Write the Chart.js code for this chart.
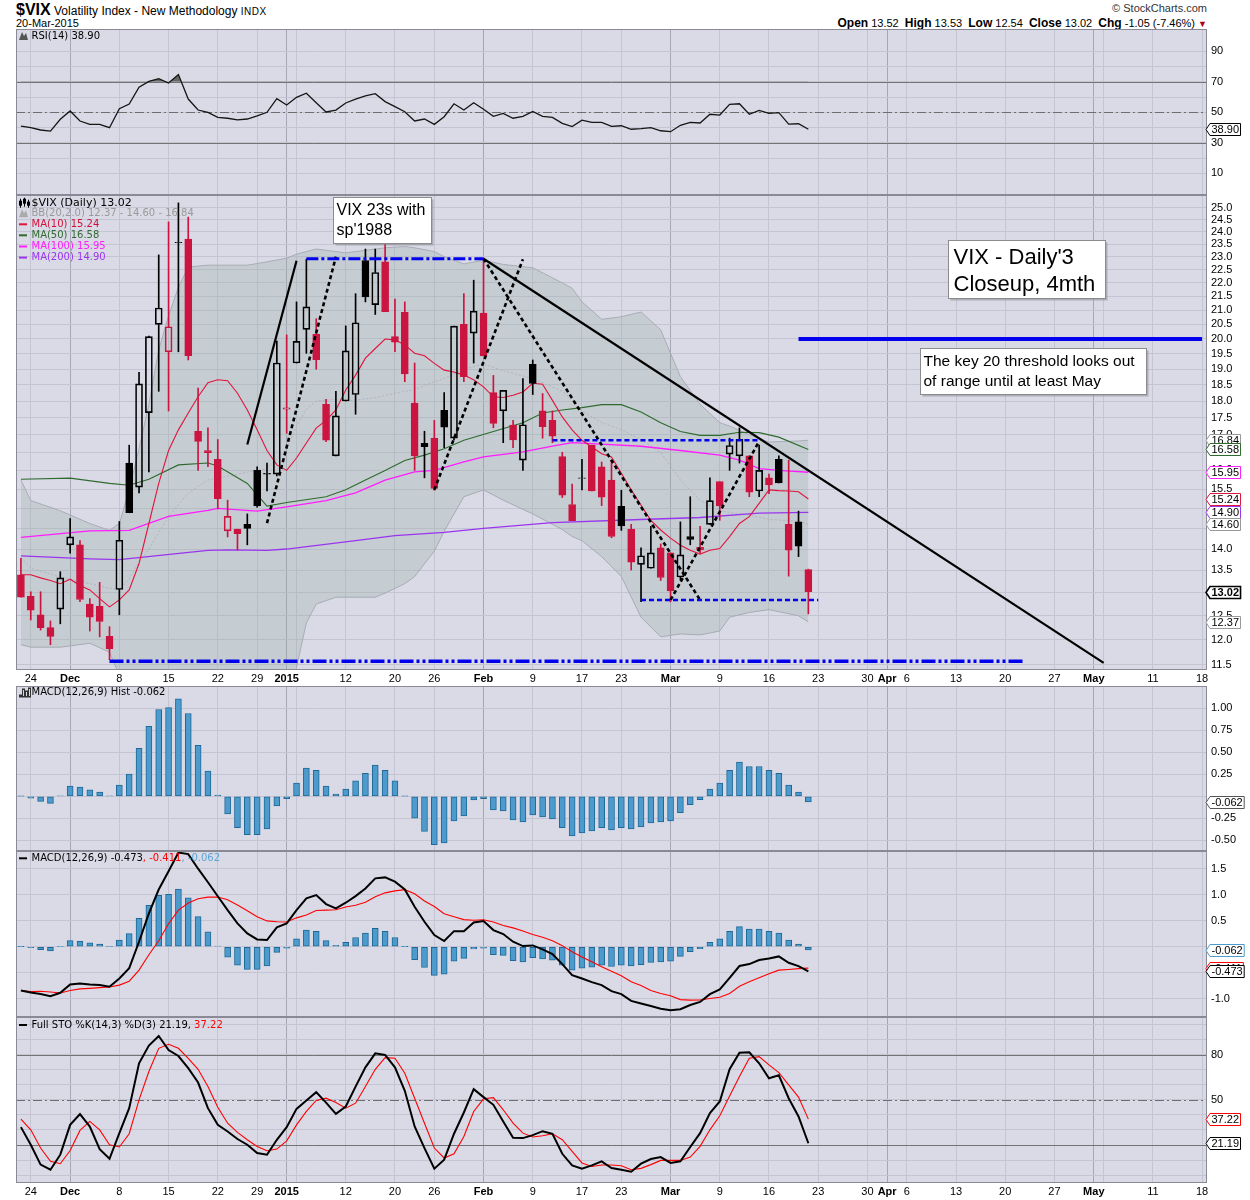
<!DOCTYPE html>
<html>
<head>
<meta charset="utf-8">
<title>$VIX daily</title>
<script src="https://cdn.jsdelivr.net/npm/chart.js@4.4.1/dist/chart.umd.min.js"></script>
<style>
  body { margin: 0; background: #fff; }
  #page { position: relative; width: 1250px; height: 1200px; font-family: "Liberation Sans", Arial, sans-serif; }
  #page canvas { position: absolute; left: 0; }
  .txt { position: absolute; white-space: nowrap; color: #000; }
</style>
</head>
<body>
<div id="page">
  <div class="txt" style="left:16px;top:1px;font-size:12px"><b style="font-size:16px">$VIX</b> Volatility Index - New Methodology <span style="font-size:10px;letter-spacing:0.5px">INDX</span></div>
  <div class="txt" style="left:16px;top:17px;font-size:11px">20-Mar-2015</div>
  <div class="txt" style="right:43px;top:2px;font-size:11px;color:#333">&copy; StockCharts.com</div>
  <div class="txt" style="right:43px;top:16px;font-size:11px"><b style="font-size:12px">Open</b> 13.52 &nbsp;<b style="font-size:12px">High</b> 13.53 &nbsp;<b style="font-size:12px">Low</b> 12.54 &nbsp;<b style="font-size:12px">Close</b> 13.02 &nbsp;<b style="font-size:12px">Chg</b> -1.05 (-7.46%) <span style="color:#b00020;font-size:9px">&#9660;</span></div>
  <canvas id="rsiChart"></canvas>
  <canvas id="priceChart"></canvas>
  <canvas id="histChart"></canvas>
  <canvas id="macdChart"></canvas>
  <canvas id="stoChart"></canvas>
</div>
<script>
// trading days on the x axis (history + empty future space up to mid May)
const monthDays = [
  ['Nov', [21, 24, 25, 26, 28]],
  ['Dec', [1, 2, 3, 4, 5, 8, 9, 10, 11, 12, 15, 16, 17, 18, 19, 22, 23, 24, 26, 29, 30, 31]],
  ['Jan', [2, 5, 6, 7, 8, 9, 12, 13, 14, 15, 16, 20, 21, 22, 23, 26, 27, 28, 29, 30]],
  ['Feb', [2, 3, 4, 5, 6, 9, 10, 11, 12, 13, 17, 18, 19, 20, 23, 24, 25, 26, 27]],
  ['Mar', [2, 3, 4, 5, 6, 9, 10, 11, 12, 13, 16, 17, 18, 19, 20, 23, 24, 25, 26, 27, 30, 31]],
  ['Apr', [1, 2, 6, 7, 8, 9, 10, 13, 14, 15, 16, 17, 20, 21, 22, 23, 24, 27, 28, 29, 30]],
  ['May', [1, 4, 5, 6, 7, 8, 11, 12, 13, 14, 15, 18]]
];
const dates = monthDays.flatMap(([m, ds]) => ds.map(d => m + ' ' + d));

const dateTicks = [
  ['Nov 24', '24'], ['Dec 1', 'Dec'], ['Dec 8', '8'], ['Dec 15', '15'], ['Dec 22', '22'], ['Dec 29', '29'],
  ['Jan 2', '2015'], ['Jan 5', ' '], ['Jan 12', '12'], ['Jan 20', '20'], ['Jan 26', '26'], ['Feb 2', 'Feb'],
  ['Feb 9', '9'], ['Feb 17', '17'], ['Feb 23', '23'], ['Mar 2', 'Mar'], ['Mar 9', '9'], ['Mar 16', '16'],
  ['Mar 23', '23'], ['Mar 30', '30'], ['Apr 1', 'Apr'], ['Apr 6', '6'], ['Apr 13', '13'], ['Apr 20', '20'],
  ['Apr 27', '27'], ['May 1', 'May'], ['May 4', ' '], ['May 11', '11'], ['May 18', '18']
];
const boldTicks = ['Dec', '2015', 'Feb', 'Mar', 'Apr', 'May'];

// daily OHLC, Nov 21 2014 - Mar 20 2015
const prevClose = 13.58;
const opens = [13.40, 12.92, 12.52, 12.25, 12.64,
  14.10, 14.10, 12.75, 12.70, 12.07, 13.07, 16.20, 15.55, 17.65, 20.50, 19.57, 23.55, 23.70, 17.10, 16.55, 16.30, 14.44, 14.48, 14.60, 16.00, 15.90, 15.90,
  17.75, 19.20, 20.33, 20.16, 17.90, 16.40, 18.00, 18.20, 22.85, 21.20, 22.80, 20.08, 20.93, 17.94, 16.75, 16.90, 17.72, 16.90, 20.50, 20.20,
  20.90, 18.26, 17.70, 17.28, 16.28, 19.16, 17.70, 17.42, 16.38, 15.10, 15.78, 16.70, 16.10, 15.74, 15.05, 14.48, 13.64, 13.55, 14.03,
  13.91, 13.35, 14.30, 13.98, 14.60, 15.70, 16.45, 16.40, 16.40, 15.45, 15.80, 16.30, 14.60, 14.66, 13.52];
const highs = [13.78, 13.02, 13.02, 12.39, 13.47,
  14.74, 14.20, 12.87, 13.23, 12.27, 14.67, 16.70, 18.90, 20.10, 23.07, 24.40, 25.20, 24.60, 18.40, 17.20, 16.86, 15.21, 14.48, 14.86, 16.10, 16.20, 19.93,
  20.14, 21.30, 22.90, 20.70, 18.05, 18.30, 20.45, 21.60, 23.30, 23.30, 23.50, 21.40, 21.30, 19.20, 17.10, 17.42, 18.26, 20.44, 21.60, 22.10,
  22.95, 18.80, 18.33, 17.42, 18.70, 19.30, 18.23, 17.70, 16.50, 15.63, 16.30, 16.70, 16.23, 16.28, 15.47, 14.60, 14.03, 14.55, 14.12,
  13.91, 14.66, 15.30, 14.55, 15.80, 15.70, 16.90, 17.20, 16.40, 16.70, 15.90, 16.40, 16.28, 14.93, 13.53];
const lows = [12.90, 12.41, 12.20, 11.90, 12.33,
  13.90, 12.80, 12.18, 12.06, 11.60, 12.52, 14.89, 15.40, 15.96, 18.30, 17.70, 19.57, 19.30, 16.00, 16.10, 14.99, 14.29, 13.98, 14.10, 15.03, 15.45, 15.85,
  17.04, 19.20, 19.52, 19.00, 16.80, 16.40, 18.00, 17.60, 21.30, 20.85, 20.95, 19.57, 18.60, 16.00, 15.80, 15.47, 16.63, 16.85, 18.60, 19.20,
  19.43, 17.20, 16.77, 16.63, 16.00, 18.20, 16.90, 16.77, 15.28, 14.69, 15.48, 15.45, 15.07, 14.27, 14.45, 13.51, 12.80, 13.55, 13.27,
  12.80, 13.28, 14.10, 13.90, 14.60, 14.70, 16.00, 16.20, 15.30, 15.30, 15.38, 15.66, 13.37, 13.82, 12.54];
const closes = [12.90, 12.62, 12.25, 12.07, 13.33,
  14.29, 12.85, 12.47, 12.38, 11.82, 14.21, 14.89, 18.53, 20.08, 21.08, 20.42, 23.57, 19.44, 16.81, 16.49, 15.25, 14.80, 14.37, 14.50, 15.06, 15.92, 19.20,
  17.79, 19.92, 21.12, 19.31, 16.84, 17.55, 19.60, 20.56, 21.48, 22.39, 20.95, 19.89, 18.85, 16.40, 16.66, 15.52, 17.22, 20.44, 18.76, 20.97,
  19.43, 17.33, 18.33, 16.85, 17.29, 18.55, 17.23, 16.96, 15.34, 14.69, 15.80, 15.45, 15.29, 14.30, 14.56, 13.69, 13.84, 13.91, 13.34,
  13.04, 13.86, 14.23, 14.04, 15.20, 15.06, 16.69, 16.87, 15.42, 16.00, 15.61, 15.66, 13.97, 14.07, 13.02];

// overlays
const ma10 = [13.40, 13.40, 13.33, 13.27, 13.20,
  13.30, 13.16, 13.06, 12.87, 12.69, 12.84, 13.06, 13.66, 14.62, 15.65, 16.55, 17.14, 17.64, 18.13, 18.57, 18.66, 18.63, 18.24, 17.73, 17.14, 16.55, 16.15,
  16.00, 16.34, 16.76, 17.19, 17.42, 17.73, 18.34, 18.81, 19.36, 19.68, 20.00, 19.97, 19.80, 19.52, 19.44, 19.19, 18.97, 18.91, 18.81, 18.66,
  18.44, 18.13, 18.11, 18.18, 18.28, 18.55, 18.52, 18.02, 17.52, 17.14, 16.84, 16.65, 16.46, 16.37, 15.92, 15.48, 15.08, 14.70, 14.46,
  14.26, 14.09, 13.97, 13.88, 13.97, 14.01, 14.30, 14.62, 14.79, 15.13, 15.48, 15.46, 15.45, 15.43, 15.24];
const ma50 = [['Nov 21', 15.76], ['Dec 1', 15.79], ['Dec 5', 15.65], ['Dec 9', 15.60], ['Dec 11', 15.76], ['Dec 16', 16.15],
  ['Dec 19', 16.20], ['Dec 22', 16.12], ['Dec 26', 15.65], ['Dec 30', 15.06], ['Jan 2', 15.15], ['Jan 8', 15.30], ['Jan 12', 15.48],
  ['Jan 14', 15.74], ['Jan 16', 16.00], ['Jan 21', 16.27], ['Jan 23', 16.42], ['Jan 27', 16.60], ['Jan 29', 16.84], ['Feb 3', 17.09],
  ['Feb 6', 17.35], ['Feb 10', 17.64], ['Feb 12', 17.73], ['Feb 17', 17.80], ['Feb 19', 17.89], ['Feb 23', 17.89], ['Feb 25', 17.67],
  ['Feb 27', 17.35], ['Mar 3', 17.09], ['Mar 5', 16.98], ['Mar 9', 16.98], ['Mar 11', 17.07], ['Mar 13', 17.06], ['Mar 17', 16.93], ['Mar 20', 16.58]];
const ma100 = [['Nov 21', 14.28], ['Dec 3', 14.44], ['Dec 9', 14.45], ['Dec 15', 14.80], ['Dec 19', 14.95], ['Dec 22', 15.00],
  ['Dec 29', 14.93], ['Jan 2', 15.04], ['Jan 8', 15.20], ['Jan 13', 15.40], ['Jan 16', 15.74], ['Jan 22', 15.96], ['Jan 26', 16.00],
  ['Jan 29', 16.23], ['Feb 2', 16.37], ['Feb 6', 16.51], ['Feb 11', 16.67], ['Feb 13', 16.77], ['Feb 19', 16.73], ['Feb 25', 16.67],
  ['Mar 3', 16.55], ['Mar 9', 16.42], ['Mar 11', 16.28], ['Mar 13', 16.05], ['Mar 17', 16.00], ['Mar 20', 15.95]];
const ma200 = [['Nov 21', 13.84], ['Dec 3', 13.77], ['Dec 8', 13.75], ['Dec 19', 13.97], ['Dec 23', 13.98], ['Dec 30', 13.97],
  ['Jan 2', 14.00], ['Jan 13', 14.20], ['Jan 20', 14.32], ['Jan 27', 14.40], ['Feb 2', 14.50], ['Feb 11', 14.64], ['Feb 25', 14.72],
  ['Mar 5', 14.77], ['Mar 13', 14.88], ['Mar 20', 14.90]];

const bbDates = ['Nov 21', 'Nov 24', 'Nov 28', 'Dec 3', 'Dec 5', 'Dec 8', 'Dec 9', 'Dec 10', 'Dec 11', 'Dec 12', 'Dec 15', 'Dec 16',
  'Dec 17', 'Dec 19', 'Dec 26', 'Dec 30', 'Jan 2', 'Jan 5', 'Jan 6', 'Jan 7', 'Jan 9', 'Jan 12', 'Jan 15', 'Jan 16', 'Jan 21',
  'Jan 22', 'Jan 26', 'Jan 27', 'Jan 29', 'Feb 2', 'Feb 4', 'Feb 9', 'Feb 12', 'Feb 13', 'Feb 17', 'Feb 19', 'Feb 23', 'Feb 25',
  'Feb 27', 'Mar 3', 'Mar 5', 'Mar 9', 'Mar 10', 'Mar 12', 'Mar 16', 'Mar 19', 'Mar 20'];
const bbUpper = [15.74, 15.20, 14.94, 14.62, 14.45, 14.62, 15.48, 16.60, 17.90, 19.63, 20.80, 21.84,
  22.60, 22.67, 22.67, 22.80, 22.94, 23.10, 23.20, 23.30, 23.20, 23.15, 23.30, 23.35, 23.40,
  23.35, 23.20, 23.00, 22.72, 22.86, 22.70, 22.57, 22.00, 21.80, 21.30, 20.68, 20.77, 20.94,
  20.31, 18.76, 17.90, 17.35, 17.25, 17.00, 16.79, 16.82, 16.84];
const bbMid = [13.80, 13.55, 13.35, 13.20, 13.10, 13.07, 13.30, 13.70, 14.00, 14.40, 14.78, 15.10,
  15.40, 15.74, 15.95, 16.05, 16.60, 17.25, 17.75, 18.00, 18.05, 18.00, 18.10, 18.17, 18.30,
  18.35, 18.60, 18.70, 19.00, 19.17, 18.95, 18.70, 18.30, 18.05, 17.70, 17.35, 17.15, 16.85,
  16.50, 15.74, 15.21, 14.94, 14.90, 14.83, 14.72, 14.68, 14.60];
const bbLower = [11.90, 11.85, 11.85, 11.93, 11.75, 11.30, 10.90, 10.20, 9.80, 9.20, 8.80, 8.40,
  8.20, 8.80, 9.20, 9.30, 10.30, 11.45, 12.35, 12.75, 12.90, 12.90, 12.90, 12.99, 13.20,
  13.36, 13.95, 14.43, 15.30, 15.48, 15.21, 14.86, 14.47, 14.30, 14.20, 13.82, 13.36, 12.47,
  12.06, 12.12, 12.10, 12.18, 12.47, 12.57, 12.63, 12.50, 12.37];

// indicator panels
const rsi = [41.0, 39.9, 38.4, 37.7, 45.4,
  50.9, 44.3, 42.1, 42.1, 39.9, 52.4, 55.4, 66.4, 70.3, 72.0, 69.2, 74.7, 58.7, 51.5, 50.0, 46.7, 46.1, 45.0, 45.6, 47.6, 50.0, 58.9,
  54.8, 59.8, 62.5, 56.3, 50.2, 51.5, 56.1, 58.7, 60.7, 62.2, 57.0, 53.7, 50.4, 44.3, 45.6, 42.1, 47.1, 55.6, 51.5, 56.3,
  52.0, 47.4, 49.3, 46.1, 47.4, 50.6, 47.4, 46.7, 42.8, 40.6, 44.8, 43.4, 43.4, 40.8, 41.2, 38.9, 39.3, 39.9, 37.9,
  37.3, 41.5, 43.4, 43.0, 48.7, 48.2, 55.2, 55.6, 48.7, 51.3, 49.3, 49.8, 42.3, 42.5, 38.9];
const macdHist = [0.002, -0.019, -0.056, -0.079, 0.004,
  0.117, 0.105, 0.075, 0.049, 0.005, 0.128, 0.252, 0.545, 0.794, 0.986, 1.008, 1.106, 0.941, 0.579, 0.286, 0.015, -0.199, -0.354, -0.436, -0.436, -0.369, -0.109,
  -0.026, 0.150, 0.320, 0.297, 0.117, 0.026, 0.083, 0.177, 0.263, 0.354, 0.297, 0.177, 0.003, -0.248, -0.399, -0.549, -0.527, -0.278, -0.222, -0.041,
  -0.026, -0.154, -0.166, -0.267, -0.290, -0.211, -0.233, -0.256, -0.354, -0.448, -0.414, -0.391, -0.354, -0.380, -0.354, -0.369, -0.346, -0.301, -0.290,
  -0.278, -0.184, -0.094, -0.038, 0.083, 0.150, 0.297, 0.388, 0.339, 0.339, 0.297, 0.263, 0.128, 0.049, -0.062];
const macdLine = [-0.84, -0.88, -0.91, -0.95, -0.885,
  -0.724, -0.705, -0.724, -0.737, -0.769, -0.609, -0.41, 0.096, 0.64, 1.10, 1.45, 1.81, 1.78, 1.50, 1.24, 0.97, 0.705, 0.449, 0.256, 0.14, 0.128, 0.372,
  0.449, 0.705, 0.93, 0.994, 0.82, 0.737, 0.846, 0.974, 1.12, 1.314, 1.333, 1.25, 1.10, 0.77, 0.48, 0.224, 0.109, 0.30, 0.30, 0.468,
  0.494, 0.32, 0.244, 0.096, 0.013, 0.026, -0.051, -0.141, -0.333, -0.545, -0.609, -0.679, -0.737, -0.853, -0.91, -1.04, -1.09, -1.14, -1.19,
  -1.22, -1.20, -1.12, -1.06, -0.91, -0.82, -0.60, -0.37, -0.333, -0.256, -0.224, -0.186, -0.308, -0.372, -0.473];
const macdSignal = [-0.842, -0.861, -0.854, -0.871, -0.889,
  -0.841, -0.810, -0.799, -0.786, -0.774, -0.737, -0.662, -0.449, -0.154, 0.114, 0.442, 0.704, 0.839, 0.921, 0.954, 0.955, 0.904, 0.803, 0.692, 0.576, 0.497, 0.481,
  0.475, 0.555, 0.610, 0.697, 0.703, 0.711, 0.763, 0.797, 0.857, 0.960, 1.036, 1.073, 1.097, 1.018, 0.879, 0.773, 0.636, 0.578, 0.522, 0.509,
  0.520, 0.474, 0.410, 0.363, 0.303, 0.237, 0.182, 0.115, 0.021, -0.097, -0.195, -0.288, -0.383, -0.473, -0.556, -0.671, -0.744, -0.839, -0.900,
  -0.942, -1.016, -1.026, -1.022, -0.993, -0.970, -0.897, -0.758, -0.672, -0.595, -0.521, -0.449, -0.436, -0.421, -0.411];
const stoK = [31.9, 20.2, 7.0, 3.6, 13.6,
  33.4, 40.5, 32.3, 17.3, 10.9, 27.9, 44.5, 74.3, 86.0, 92.4, 83.1, 79.1, 71.0, 61.5, 44.5, 33.4, 29.0, 24.0, 20.2, 14.7, 13.6, 23.5,
  31.9, 44.0, 49.6, 55.1, 48.2, 40.7, 45.6, 58.8, 71.6, 80.9, 79.8, 71.6, 56.0, 32.3, 18.0, 4.3, 10.3, 27.5, 41.6, 57.1,
  51.8, 46.7, 35.7, 24.8, 24.6, 26.6, 29.2, 27.5, 14.2, 6.5, 4.3, 6.5, 9.2, 4.7, 3.6, 2.3, 7.6, 10.7, 12.0,
  8.1, 9.2, 18.7, 27.9, 41.2, 48.9, 70.3, 81.3, 81.6, 74.3, 64.3, 66.3, 51.1, 39.0, 21.19];
const stoD = [37.2, 30.1, 18.0, 9.2, 7.6,
  16.4, 29.7, 35.7, 30.1, 20.2, 18.7, 27.5, 50.0, 68.8, 84.2, 86.9, 84.2, 77.6, 70.3, 58.8, 45.1, 34.5, 28.4, 23.5, 19.1, 16.2, 17.3,
  22.8, 33.4, 42.3, 49.6, 51.1, 48.2, 44.5, 47.8, 58.8, 70.3, 78.0, 77.6, 67.7, 51.1, 34.5, 18.0, 11.4, 14.2, 25.7, 42.3,
  50.7, 51.5, 43.4, 34.5, 27.9, 25.3, 26.2, 27.5, 23.5, 15.8, 8.1, 5.8, 6.7, 6.7, 6.3, 3.6, 4.5, 7.0, 9.8,
  9.8, 9.8, 12.0, 19.1, 30.1, 39.4, 52.6, 65.5, 77.6, 78.7, 73.2, 68.1, 59.9, 51.8, 37.22];

// hand-drawn annotations: [date, price] end points
const level20 = [['Mar 19', 20.0], ['May 18', 20.0]];
const top23 = [['Jan 6', 22.92], ['Feb 2', 22.92]];
const mid17 = [['Feb 11', 16.84], ['Mar 13', 16.84]];
const low1285 = [['Feb 25', 12.84], ['Mar 23', 12.84]];
const floor1157 = [['Dec 5', 11.57], ['Apr 22', 11.57]];
const riseA = [['Dec 26', 16.72], ['Jan 5', 22.84]];
const riseB = [['Dec 30', 14.63], ['Jan 9', 23.0]];
const riseC = [['Jan 26', 15.48], ['Feb 6', 22.9]];
const fallD = [['Feb 2', 22.92], ['Mar 5', 12.84]];
const riseE = [['Mar 2', 12.84], ['Mar 13', 16.81]];
const downTrend = [['Feb 2', 22.92], ['May 4', 11.54]];

const priceTicks = [11.5, 12, 12.5, 13, 13.5, 14, 14.5, 15, 15.5, 16, 16.5, 17, 17.5, 18, 18.5, 19, 19.5, 20,
  20.5, 21, 21.5, 22, 22.5, 23, 23.5, 24, 24.5, 25];

// ---------- styling helpers ----------
const candleRed = '#cc1440';
const plotBg = '#dadae6';
const gridCol = '#c4c4d2';
const monthGridCol = '#a6a6b6';
const legendFont = '10px "DejaVu Sans"';

const tickText = dates.map(d => { const t = dateTicks.find(p => p[0] === d); return t ? t[1] : null; });
const tickLabel = c => (c && c.tick) ? c.tick.label : null;

function canvasAt(id, top, height) {
  const cv = document.getElementById(id);
  cv.width = 1250; cv.height = height;
  cv.style.top = top + 'px'; cv.style.width = '1250px'; cv.style.height = height + 'px';
  return cv;
}

function xAxis(labelHeight) {
  return {
    type: 'category', offset: true,
    grid: {
      offset: false, drawTicks: false,
      color: c => boldTicks.includes(tickLabel(c)) ? monthGridCol : gridCol
    },
    border: { display: false },
    ticks: {
      display: labelHeight > 0, autoSkip: false, maxRotation: 0, minRotation: 0, padding: 2, color: '#000',
      callback: (v, i) => tickText[v],
      font: c => ({ family: '"Liberation Sans", Arial', size: 11, weight: boldTicks.includes(tickLabel(c)) ? 'bold' : 'normal' })
    },
    afterFit: s => { s.height = labelHeight; s.paddingLeft = 0; s.paddingRight = 0; s.paddingTop = 0; s.paddingBottom = 0; }
  };
}

function yAxis(min, max, ticks, fmt, type) {
  return {
    type: type || 'linear', position: 'right', min: min, max: max,
    afterBuildTicks: s => { s.ticks = ticks.map(v => ({ value: v })); },
    afterFit: s => { s.width = 43; s.paddingTop = 0; s.paddingBottom = 0; s.paddingLeft = 0; s.paddingRight = 0; },
    grid: { color: gridCol, drawTicks: false },
    border: { display: false },
    ticks: { padding: 4, color: '#000', font: { family: '"Liberation Sans", Arial', size: 11 }, callback: fmt }
  };
}

function baseOptions(scales) {
  return {
    responsive: false, animation: false, devicePixelRatio: 1,
    layout: { autoPadding: false, padding: { left: 16, right: 0, top: 0, bottom: 0 } },
    plugins: { legend: { display: false }, tooltip: { enabled: false } },
    elements: { point: { radius: 0 }, line: { tension: 0 } },
    scales: scales
  };
}

const pts = arr => arr.map(([d, v]) => ({ x: d, y: v }));
const seg = (arr, color, width, dash) => ({
  type: 'line', data: pts(arr), borderColor: color, borderWidth: width, borderDash: dash || [],
  fill: false, pointRadius: 0
});

function lineIcon(color) {
  return (ctx, x, y) => { ctx.fillStyle = color; ctx.fillRect(x, y - 1, 8, 2); };
}
function mountainIcon(color) {
  return (ctx, x, y) => {
    ctx.fillStyle = color; ctx.beginPath();
    ctx.moveTo(x, y + 4); ctx.lineTo(x + 3, y - 4); ctx.lineTo(x + 5, y); ctx.lineTo(x + 7, y - 3); ctx.lineTo(x + 9, y + 4);
    ctx.closePath(); ctx.fill();
  };
}
function barsIcon(ctx, x, y) {
  ctx.strokeStyle = '#333'; ctx.lineWidth = 1;
  [[0, 2], [3, -4], [6, -2], [9, -5]].forEach(([dx, h]) => ctx.strokeRect(x + dx + 0.5, y + h + 0.5, 2, 4 - h));
}
function candleIcon(ctx, x, y) {
  ctx.fillStyle = '#000';
  ctx.fillRect(x + 1, y - 4, 1, 9); ctx.fillRect(x, y - 2, 3, 5);
  ctx.fillRect(x + 5, y - 5, 1, 9); ctx.strokeStyle = '#000'; ctx.strokeRect(x + 4.5, y - 3.5, 2, 4);
  ctx.fillRect(x + 9, y - 3, 1, 8); ctx.fillRect(x + 8, y - 1, 3, 4);
}

function deco(cfg) {
  return {
    id: 'deco',
    beforeDraw(chart) {
      const { ctx, chartArea: a } = chart;
      ctx.save(); ctx.fillStyle = plotBg; ctx.fillRect(a.left, a.top, a.width, a.height); ctx.restore();
    },
    beforeDatasetsDraw(chart) {
      const { ctx, chartArea: a, scales } = chart;
      (cfg.refLines || []).forEach(r => {
        const py = Math.round(scales.y.getPixelForValue(r.v)) + 0.5;
        ctx.save(); ctx.strokeStyle = r.color; ctx.lineWidth = 1; ctx.setLineDash(r.dash || []);
        ctx.beginPath(); ctx.moveTo(a.left, py); ctx.lineTo(a.right, py); ctx.stroke(); ctx.restore();
      });
    },
    afterDraw(chart) {
      const { ctx, chartArea: a, scales } = chart;
      ctx.save();
      ctx.strokeStyle = '#8a8a96'; ctx.lineWidth = 1;
      ctx.strokeRect(a.left + 0.5, a.top + 0.5, a.width - 1, a.height - 1);
      // text notes anchored on date / price
      (cfg.notes || []).forEach(n => {
        const nx = Math.round(scales.x.getPixelForValue(dates.indexOf(n.date)) + (n.dx || 0)) + 0.5;
        const ny = Math.round(scales.y.getPixelForValue(n.price)) + 0.5;
        ctx.fillStyle = 'rgba(120,120,130,0.45)'; ctx.fillRect(nx + 2, ny + 2, n.w, n.h);
        ctx.fillStyle = '#fff'; ctx.fillRect(nx, ny, n.w, n.h);
        ctx.strokeStyle = '#8c8c8c'; ctx.strokeRect(nx, ny, n.w, n.h);
        ctx.fillStyle = '#000'; ctx.textBaseline = 'middle';
        ctx.font = n.size + 'px "Liberation Sans", Arial';
        n.lines.forEach((t, i) => ctx.fillText(t, nx + n.pad, ny + n.first + i * n.lh));
      });
      // legend rows
      (cfg.legend || []).forEach(row => {
        const y = a.top + row.dy;
        if (row.icon) row.icon(ctx, a.left + 3, y);
        let x = a.left + 15.5;
        ctx.textBaseline = 'middle';
        ctx.font = row.font || legendFont;
        row.parts.forEach(([t, c]) => { ctx.fillStyle = c; ctx.fillText(t, x, y); x += ctx.measureText(t).width; });
      });
      // last value flags on the right axis
      (cfg.boxes || []).forEach(([v, text, col, bold]) => {
        const y = Math.round(scales.y.getPixelForValue(v)) + 0.5;
        ctx.font = (bold ? 'bold ' : '') + '11px "Liberation Sans", Arial';
        const w = ctx.measureText(text).width;
        const x0 = a.right - 1, x1 = a.right + 3, x2 = x1 + w + 3;
        ctx.beginPath();
        ctx.moveTo(x0, y); ctx.lineTo(x1, y - 6); ctx.lineTo(x2, y - 6); ctx.lineTo(x2, y + 6); ctx.lineTo(x1, y + 6); ctx.closePath();
        ctx.fillStyle = '#fff'; ctx.fill();
        ctx.strokeStyle = col; ctx.lineWidth = bold ? 1.6 : 1; ctx.stroke();
        ctx.fillStyle = '#000'; ctx.textBaseline = 'middle'; ctx.fillText(text, x1 + 1.5, y + 0.5);
      });
      ctx.restore();
    }
  };
}

Chart.defaults.font.family = '"Liberation Sans", Arial, sans-serif';

// ---------- RSI ----------
new Chart(canvasAt('rsiChart', 29, 166), {
  type: 'line',
  data: {
    labels: dates,
    datasets: [{
      data: rsi, borderColor: '#151515', borderWidth: 1.3,
      fill: { target: { value: 70 }, above: 'rgba(90,90,90,0.9)', below: 'rgba(0,0,0,0)' }
    }]
  },
  options: baseOptions({
    x: xAxis(0),
    y: yAxis(-4.2, 104.6, [10, 20, 30, 40, 50, 60, 70, 80, 90], v => [10, 30, 50, 70, 90].includes(v) ? String(v) : '')
  }),
  plugins: [deco({
    refLines: [{ v: 70, color: '#737373' }, { v: 30, color: '#737373' }, { v: 50, color: '#6e6e6e', dash: [9, 3, 2, 3] }],
    legend: [{ dy: 7, icon: mountainIcon('#555'), parts: [['RSI(14) 38.90', '#000']] }],
    boxes: [[38.90, '38.90', '#000']]
  })]
});

// ---------- price panel ----------
const isUp = closes.map((c, i) => c >= (i ? closes[i - 1] : prevClose));
const candleCol = isUp.map(u => u ? '#000' : candleRed);
const hollow = closes.map((c, i) => c > opens[i]);

new Chart(canvasAt('priceChart', 195, 491), {
  type: 'bar',
  data: {
    labels: dates,
    datasets: [
      seg(level20, '#0000ee', 4),
      seg(top23, '#0000ee', 3, [12, 3, 3, 3]),
      seg(mid17, '#0000ee', 2.5, [5, 3]),
      seg(low1285, '#0000ee', 2.5, [5, 3]),
      seg(floor1157, '#0000ee', 3.5, [14, 3, 3, 3, 3, 3]),
      seg(riseA, '#000', 2.2),
      seg(riseB, '#000', 2.6, [4, 3]),
      seg(riseC, '#000', 2.6, [4, 3]),
      seg(fallD, '#000', 2.6, [4, 3]),
      seg(riseE, '#000', 2.6, [4, 3]),
      seg(downTrend, '#000', 2.2),
      { type: 'bar', data: highs.map((h, i) => [Math.max(opens[i], closes[i]), h]), backgroundColor: candleCol, barThickness: 1, grouped: false },
      { type: 'bar', data: lows.map((l, i) => [l, Math.min(opens[i], closes[i])]), backgroundColor: candleCol, barThickness: 1, grouped: false },
      {
        type: 'bar', data: opens.map((o, i) => [o, closes[i]]),
        backgroundColor: hollow.map((h, i) => h ? 'rgba(0,0,0,0)' : candleCol[i]),
        borderColor: candleCol, borderWidth: 1, borderSkipped: false, barThickness: 7, grouped: false
      },
      { type: 'line', data: ma10, borderColor: '#e2143c', borderWidth: 1.1, fill: false },
      { type: 'line', data: pts(ma50), borderColor: '#2f6b2f', borderWidth: 1.1, fill: false },
      { type: 'line', data: pts(ma100), borderColor: '#ff1cff', borderWidth: 1.3, fill: false },
      { type: 'line', data: pts(ma200), borderColor: '#9a35ee', borderWidth: 1.3, fill: false },
      { type: 'line', data: bbDates.map((d, i) => ({ x: d, y: bbMid[i] })), borderColor: '#b3b3bd', borderWidth: 1, borderDash: [2, 2], fill: false },
      {
        type: 'line', data: bbDates.map((d, i) => ({ x: d, y: bbUpper[i] })), borderColor: '#a9adb6', borderWidth: 1,
        fill: '+1', backgroundColor: 'rgba(150,172,166,0.30)'
      },
      { type: 'line', data: bbDates.map((d, i) => ({ x: d, y: bbLower[i] })), borderColor: '#a9adb6', borderWidth: 1, fill: false }
    ]
  },
  options: baseOptions({
    x: xAxis(16),
    y: yAxis(11.4, 25.54, priceTicks, v => v.toFixed(1), 'logarithmic')
  }),
  plugins: [deco({
    notes: [
      { date: 'Jan 9', dx: -3, price: 25.46, w: 98, h: 46, size: 16, pad: 3, first: 13, lh: 20, lines: ['VIX 23s with', "sp'1988"] },
      { date: 'Apr 10', dx: 2, price: 23.67, w: 157, h: 58, size: 22, pad: 5, first: 17, lh: 27, lines: ["VIX - Daily'3", 'Closeup, 4mth'] },
      { date: 'Apr 7', dx: 3, price: 19.70, w: 226, h: 46, size: 15.5, pad: 3, first: 13, lh: 20, lines: ['The key 20 threshold looks out', 'of range until at least May'] }
    ],
    legend: [
      { dy: 7.7, icon: candleIcon, parts: [['$VIX (Daily) 13.02', '#000']], font: '11px "DejaVu Sans"' },
      { dy: 18.3, icon: mountainIcon('#aaa'), parts: [['BB(20,2.0) 12.37 - 14.60 - 16.84', '#9a9a9a']] },
      { dy: 29.3, icon: lineIcon('#e2143c'), parts: [['MA(10) 15.24', '#d0103a']] },
      { dy: 40.3, icon: lineIcon('#2f6b2f'), parts: [['MA(50) 16.58', '#2f6b2f']] },
      { dy: 51.5, icon: lineIcon('#ff1cff'), parts: [['MA(100) 15.95', '#ff1cff']] },
      { dy: 62.6, icon: lineIcon('#9a35ee'), parts: [['MA(200) 14.90', '#9a35ee']] }
    ],
    boxes: [
      [16.84, '16.84', '#999'], [16.58, '16.58', '#2f6b2f'], [15.95, '15.95', '#ff1cff'], [15.24, '15.24', '#e2143c'],
      [14.90, '14.90', '#9a35ee'], [14.60, '14.60', '#999'], [13.02, '13.02', '#000', true], [12.37, '12.37', '#999']
    ]
  })]
});

// ---------- MACD histogram ----------
const histStyle = { backgroundColor: '#4d9bcc', borderColor: '#1d6896', borderWidth: 1, borderSkipped: false, barThickness: 6 };

new Chart(canvasAt('histChart', 686, 165), {
  type: 'bar',
  data: { labels: dates, datasets: [Object.assign({ data: macdHist }, histStyle)] },
  options: baseOptions({
    x: xAxis(0),
    y: yAxis(-0.62, 1.253, [-0.5, -0.25, 0, 0.25, 0.5, 0.75, 1.0], v => v === 0 ? '' : v.toFixed(2))
  }),
  plugins: [deco({
    legend: [{ dy: 6.5, icon: barsIcon, parts: [['MACD(12,26,9) Hist -0.062', '#000']] }],
    boxes: [[-0.062, '-0.062', '#555']]
  })]
});

// ---------- MACD lines ----------
new Chart(canvasAt('macdChart', 851, 166), {
  type: 'bar',
  data: {
    labels: dates,
    datasets: [
      { type: 'line', data: macdLine, borderColor: '#000', borderWidth: 2, fill: false },
      { type: 'line', data: macdSignal, borderColor: '#ff0000', borderWidth: 1.1, fill: false },
      Object.assign({ data: macdHist }, histStyle)
    ]
  },
  options: baseOptions({
    x: xAxis(0),
    y: yAxis(-1.35, 1.84, [-1, -0.5, 0, 0.5, 1, 1.5], v => (v === 0 || v === -0.5) ? '' : v.toFixed(1))
  }),
  plugins: [deco({
    legend: [{ dy: 7.3, icon: lineIcon('#000'), parts: [['MACD(12,26,9) -0.473', '#000'], [', -0.411', '#ff0000'], [', -0.062', '#5aa6d6']] }],
    boxes: [[-0.062, '-0.062', '#4d9bcc'], [-0.411, '-0.411', '#ff0000'], [-0.473, '-0.473', '#000']]
  })]
});

// ---------- Full stochastics ----------
new Chart(canvasAt('stoChart', 1017, 183), {
  type: 'line',
  data: {
    labels: dates,
    datasets: [
      { data: stoK, borderColor: '#000', borderWidth: 2, fill: false },
      { data: stoD, borderColor: '#ff0000', borderWidth: 1.1, fill: false }
    ]
  },
  options: baseOptions({
    x: xAxis(17),
    y: yAxis(-5.2, 105, [0, 10, 20, 30, 40, 50, 60, 70, 80, 90, 100], v => [50, 80].includes(v) ? String(v) : '')
  }),
  plugins: [deco({
    refLines: [{ v: 80, color: '#737373' }, { v: 20, color: '#737373' }, { v: 50, color: '#6e6e6e', dash: [9, 3, 2, 3] }],
    legend: [{ dy: 8, icon: lineIcon('#000'), parts: [['Full STO %K(14,3) %D(3) 21.19, ', '#000'], ['37.22', '#ff0000']] }],
    boxes: [[37.22, '37.22', '#ff0000'], [21.19, '21.19', '#000']]
  })]
});
</script>
</body>
</html>
